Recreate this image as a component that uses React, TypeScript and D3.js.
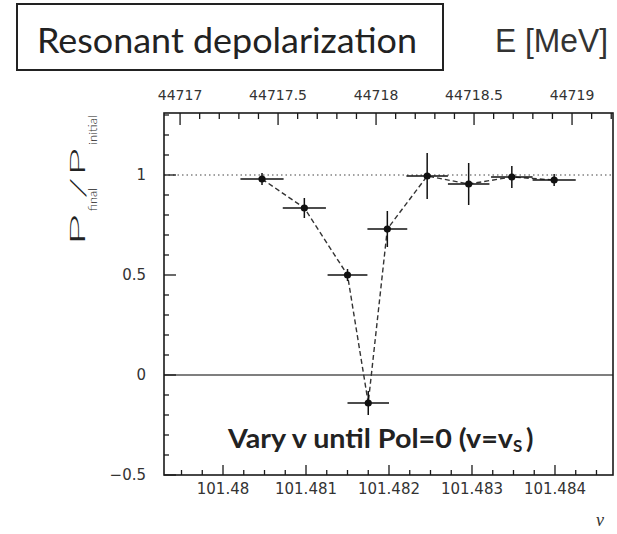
import React from "react";
import * as d3 from "d3";

// ---- data ----
const nuValues = [101.48047, 101.48098, 101.4815, 101.48175, 101.48198, 101.48246, 101.48296, 101.48348, 101.48399];
const polRatio = [0.98, 0.835, 0.5, -0.14, 0.73, 0.995, 0.955, 0.99, 0.975];
const nuErr = [0.00026, 0.00026, 0.00024, 0.00025, 0.00024, 0.00025, 0.00025, 0.00025, 0.00026];
const polErr = [0.03, 0.05, 0.03, 0.06, 0.09, 0.115, 0.105, 0.055, 0.03];
const bottomTickLabels = [101.48, 101.481, 101.482, 101.483, 101.484];
const topTickLabels = [44717, 44717.5, 44718, 44718.5, 44719];
const leftTickLabels = [-0.5, 0, 0.5, 1];

const W = 617;
const H = 534;
const L = 164, R = 613, T = 113, B = 475;

export default function App() {
  const x = d3.scaleLinear().domain([101.479289, 101.484699]).range([L, R]);
  const xE = d3.scaleLinear().domain([44716.918, 44719.209]).range([L, R]);
  const y = d3.scaleLinear().domain([-0.5, 1.31]).range([B, T]);

  const pts = nuValues.map((v, i) => ({ v, p: polRatio[i], ex: nuErr[i], ey: polErr[i] }));
  const line = d3.line<{ v: number; p: number }>().x(d => x(d.v)).y(d => y(d.p));

  const bottomMinor = d3.range(Math.ceil(101.479289 / 0.00025), Math.floor(101.484699 / 0.00025) + 1).map(k => k * 0.00025);
  const topMinor = d3.range(Math.ceil(44716.918 * 10), Math.floor(44719.209 * 10) + 1).map(k => k / 10);
  const leftMinor = d3.range(-5, 14).map(k => k / 10);

  const isMult = (v: number, step: number) => Math.abs(v / step - Math.round(v / step)) < 1e-6;
  const tickFont = { fontFamily: "DejaVu Sans", fontSize: 14, fill: "#333" } as const;
  const ink = "#1a1a1a";

  return (
    <svg width={W} height={H} style={{ position: "absolute", left: 0, top: 0, background: "#fff" }}>
      {/* title box */}
      <rect x={17} y={4} width={426} height={66} fill="none" stroke="#222" strokeWidth={2} />
      <text x={37} y={53} fontFamily="Lato" fontSize={35} fill="#222" textLength={380} lengthAdjust="spacingAndGlyphs">Resonant depolarization</text>
      <text x={495} y={52} fontFamily="Liberation Sans" fontSize={34} fill="#333" textLength={113} lengthAdjust="spacingAndGlyphs">E [MeV]</text>

      {/* reference lines */}
      <line x1={L} x2={R} y1={y(1)} y2={y(1)} stroke="#444" strokeWidth={1.2} strokeDasharray="1.5 3" />
      <line x1={L} x2={R} y1={y(0)} y2={y(0)} stroke="#555" strokeWidth={1.5} />

      {/* frame */}
      <rect x={L} y={T} width={R - L} height={B - T} fill="none" stroke={ink} strokeWidth={1.6} />

      {/* left ticks */}
      {leftMinor.map(v => (
        <line key={"l" + v} x1={L} x2={L + (isMult(v, 0.5) ? 12 : 5)} y1={y(v)} y2={y(v)} stroke={ink} strokeWidth={1.3} />
      ))}
      {leftTickLabels.map(v => (
        <text key={"lt" + v} x={146} y={y(v) + 5} textAnchor="end" {...tickFont} fontSize={15}>{v < 0 ? "\u2212" + Math.abs(v) : String(v)}</text>
      ))}

      {/* bottom ticks */}
      {bottomMinor.map(v => (
        <line key={"b" + v} x1={x(v)} x2={x(v)} y1={B} y2={B - (isMult(v, 0.001) ? 10 : 5)} stroke={ink} strokeWidth={1.3} />
      ))}
      {bottomTickLabels.map(v => (
        <text key={"bt" + v} x={x(v)} y={494} textAnchor="middle" {...tickFont} fontSize={15}>{String(v)}</text>
      ))}

      {/* top ticks */}
      {topMinor.map(v => (
        <line key={"t" + v} x1={xE(v)} x2={xE(v)} y1={T} y2={T + (isMult(v, 0.5) ? 12 : 6)} stroke={ink} strokeWidth={1.3} />
      ))}
      {topTickLabels.map(v => (
        <text key={"tt" + v} x={xE(v)} y={100} textAnchor="middle" {...tickFont}>{String(v)}</text>
      ))}

      {/* y label */}
      <g transform="translate(85,0) rotate(-90) scale(1,0.56)" fill="#222" fontFamily="Lato" fontWeight={300}>
        <text x={-246} y={0} fontSize={40} textLength={32} lengthAdjust="spacingAndGlyphs">P</text>
        <text x={-211} y={21} fontSize={22} textLength={23} lengthAdjust="spacingAndGlyphs">final</text>
        <text x={-199} y={2} fontSize={40} textLength={22} lengthAdjust="spacingAndGlyphs">/</text>
        <text x={-176} y={0} fontSize={40} textLength={28} lengthAdjust="spacingAndGlyphs">P</text>
        <text x={-145} y={21} fontSize={22} textLength={30} lengthAdjust="spacingAndGlyphs">initial</text>
      </g>

      {/* dashed curve */}
      <path d={line(pts) || ""} fill="none" stroke="#333" strokeWidth={1.4} strokeDasharray="5 3" />

      {/* error bars and points */}
      {pts.map((d, i) => (
        <g key={"p" + i} stroke="#111" strokeWidth={1.5}>
          <line x1={x(d.v - d.ex)} x2={x(d.v + d.ex)} y1={y(d.p)} y2={y(d.p)} />
          <line x1={x(d.v)} x2={x(d.v)} y1={y(d.p - d.ey)} y2={y(d.p + d.ey)} />
          <circle cx={x(d.v)} cy={y(d.p)} r={3.6} fill="#111" stroke="none" />
        </g>
      ))}

      {/* annotation */}
      <text x={228} y={448} fontFamily="Lato" fontWeight={700} fontSize={27} fill="#222" textLength={285} lengthAdjust="spacingAndGlyphs">Vary v until Pol=0 (v=v</text>
      <text x={513} y={452} fontFamily="Lato" fontWeight={700} fontSize={17} fill="#222">S</text>
      <text x={526} y={448} fontFamily="Lato" fontWeight={700} fontSize={27} fill="#222">)</text>

      {/* axis variable */}
      <text x={596} y={526} fontFamily="Liberation Serif" fontStyle="italic" fontSize={18} fill="#333">ν</text>
    </svg>
  );
}
